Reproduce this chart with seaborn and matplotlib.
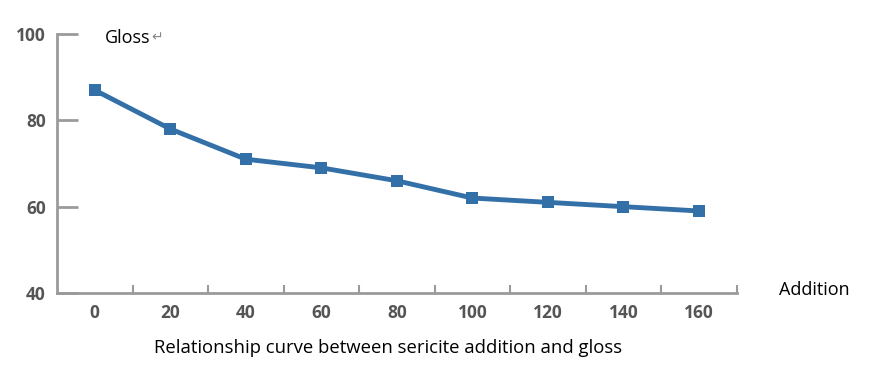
import numpy as np
import pandas as pd
import matplotlib.pyplot as plt
import seaborn as sns

# data
addition = [0, 20, 40, 60, 80, 100, 120, 140, 160]
gloss = [87, 78, 71, 69, 66, 62, 61, 60, 59]
x_labels = ['0', '20', '40', '60', '80', '100', '120', '140', '160']
y_ticks = [40, 60, 80, 100]

df = pd.DataFrame({'addition': addition, 'gloss': gloss})

sns.set_style('white')
plt.rcParams['font.family'] = ['Open Sans', 'DejaVu Sans']

fig = plt.figure(figsize=(8.77, 3.66), dpi=100)
ax = fig.add_axes([0.065, 0.1995, 0.775, 0.7075])

sns.lineplot(data=df, x='addition', y='gloss', ax=ax, color='#3470a8',
             linewidth=3.5, marker='s', markersize=8, markeredgewidth=0)

ax.set_xlim(-10, 170)
ax.set_ylim(40, 100)

axis_grey = '#9a9a9a'
label_grey = '#555555'
for side in ['top', 'right']:
    ax.spines[side].set_visible(False)
for side in ['left', 'bottom']:
    ax.spines[side].set_color(axis_grey)
    ax.spines[side].set_linewidth(2)

# x: labels at the points, small tick marks in between
ax.set_xticks(addition)
ax.set_xticklabels(x_labels, fontsize=12.5, fontweight='bold', color=label_grey)
ax.set_xticks(np.arange(10, 171, 20), minor=True)
ax.tick_params(axis='x', which='major', bottom=True, length=0, pad=8)
ax.tick_params(axis='x', which='minor', bottom=True, length=6, width=1.5,
               direction='in', color=axis_grey)

ax.set_yticks(y_ticks)
ax.set_yticklabels([str(v) for v in y_ticks], fontsize=12.5, fontweight='bold',
                   color=label_grey)
ax.tick_params(axis='y', left=True, length=15, width=2, direction='in',
               color=axis_grey, pad=8)

ax.set_xlabel('')
ax.set_ylabel('')

fig.text(0.12, 0.895, 'Gloss', fontsize=13, color='black', va='center')
fig.text(0.172, 0.897, '\u21b5', fontsize=10, color='#888888', va='center')
fig.text(0.888, 0.207, 'Addition', fontsize=13, color='black', va='center')
fig.text(0.443, 0.05, 'Relationship curve between sericite addition and gloss',
         fontsize=13.3, color='black', ha='center', va='center')

fig.savefig('out.png', dpi=100)
